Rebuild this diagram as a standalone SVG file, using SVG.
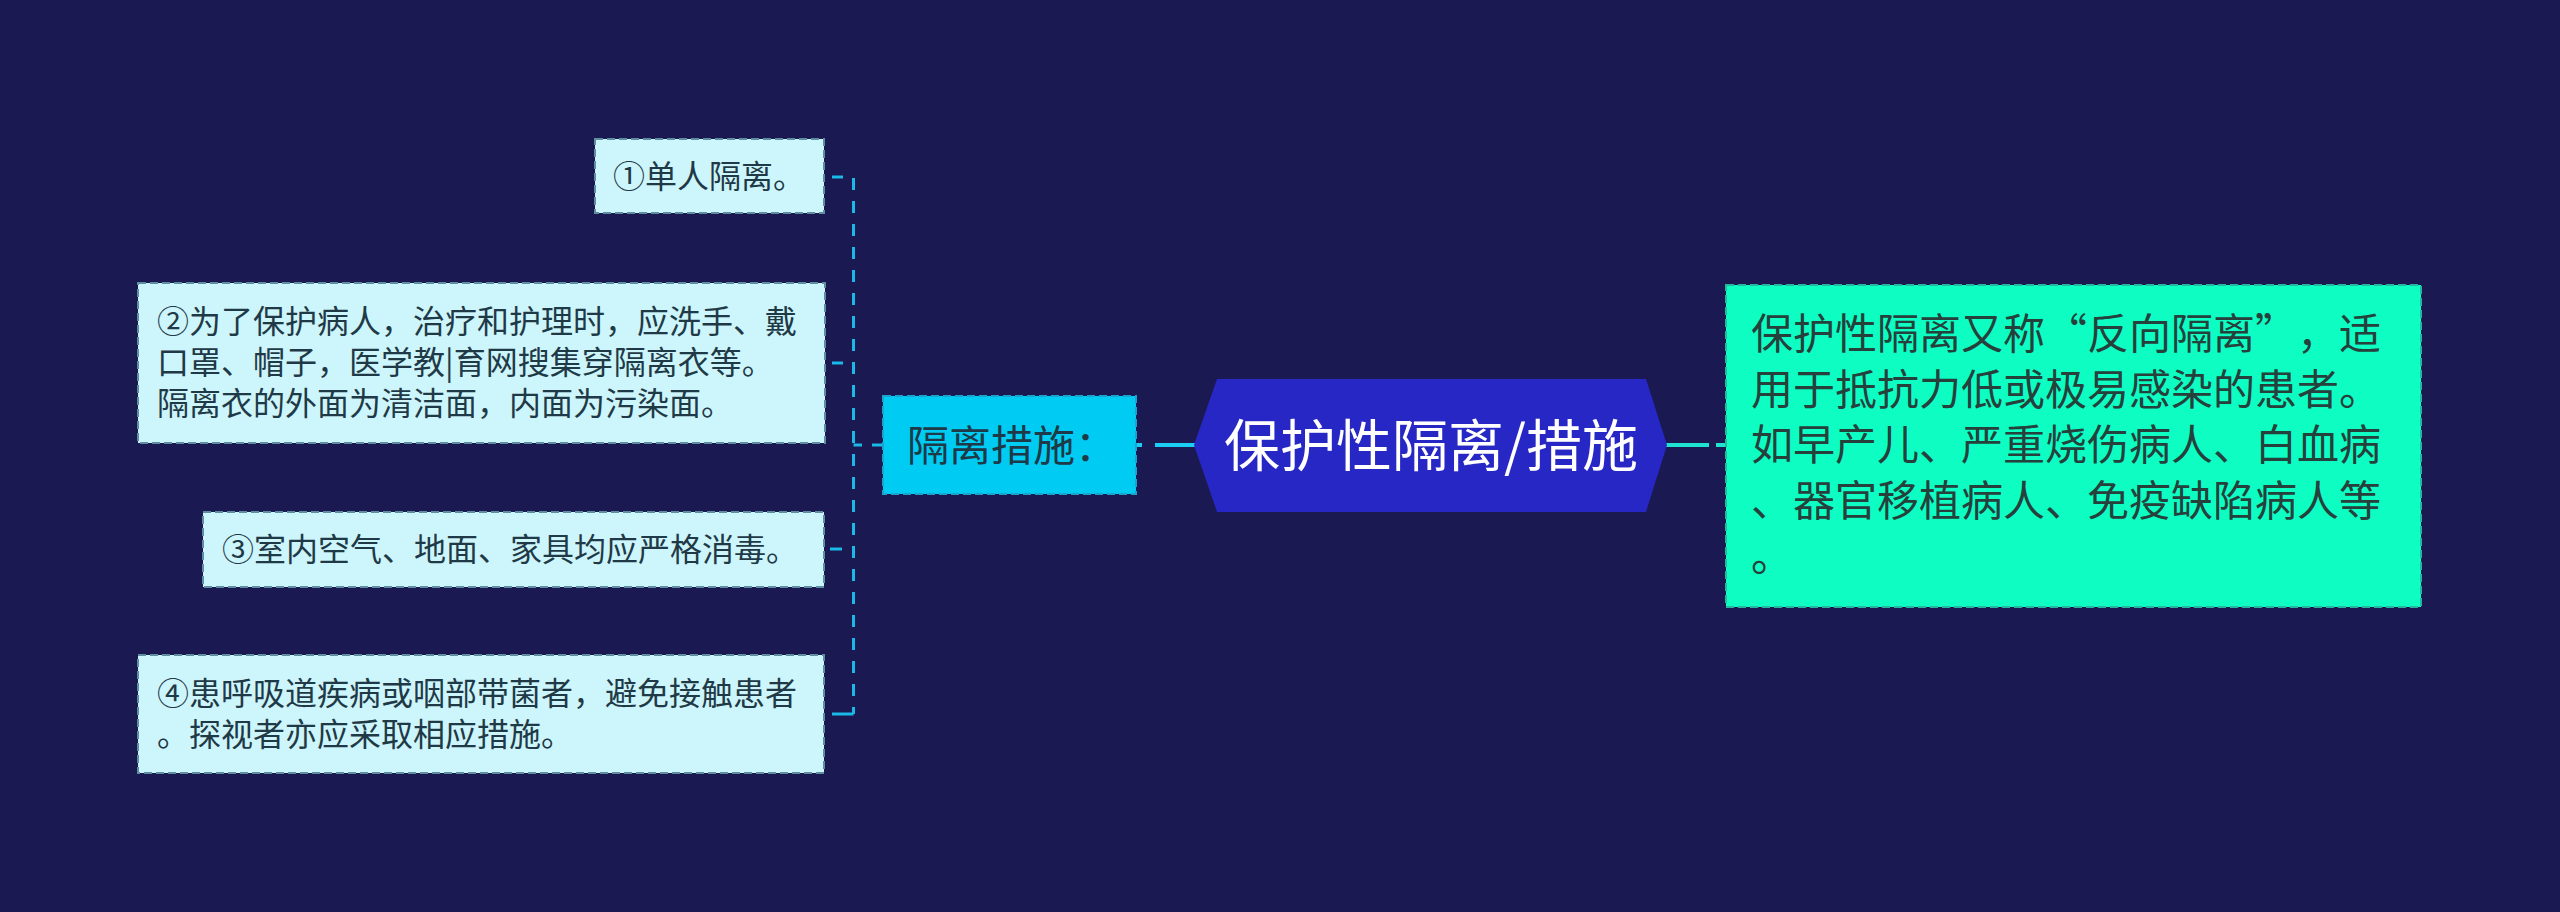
<svg xmlns="http://www.w3.org/2000/svg" width="2560" height="912" viewBox="0 0 2560 912">
<style>
text{font-family:"Noto Sans CJK SC","Noto Sans",sans-serif}
.leaf rect{fill:#cdf5fc;stroke:#5f8ea0;stroke-width:2;stroke-dasharray:8 4}
.leaf text{font-size:32px;fill:#1f3a46}
.mid rect{fill:#00ccf3;stroke:#1aa3cc;stroke-width:2;stroke-dasharray:8 4}
.mid text{font-size:42px;fill:#1e3a48}
.right rect{fill:#0dfdc3;stroke:#26b89c;stroke-width:2;stroke-dasharray:8 4}
.right text{font-size:42px;fill:#26403c}
.root polygon{fill:#2727c5}
.root text{font-size:56px;fill:#ffffff}
.br{stroke:#19b9e8;stroke-width:3;fill:none}
.lk{stroke:#1ccdf3;stroke-width:4;fill:none}
.rk{stroke:#1ee3cf;stroke-width:4;fill:none}
</style>
<rect x="0" y="0" width="2560" height="912" fill="#1a1951"/>
<g id="connectors">
<line class="br" x1="853.5" y1="178" x2="853.5" y2="714" stroke-dasharray="12 11"/>
<line class="br" x1="832" y1="177" x2="843" y2="177"/>
<line class="br" x1="832" y1="363" x2="843" y2="363"/>
<line class="br" x1="830" y1="549" x2="842" y2="549"/>
<line class="br" x1="832" y1="714" x2="853.5" y2="714"/>
<line class="br" x1="853.5" y1="445" x2="862" y2="445"/>
<line class="br" x1="872" y1="445" x2="883" y2="445"/>
<line class="lk" x1="1136" y1="445" x2="1142" y2="445"/>
<line class="lk" x1="1155" y1="445" x2="1196" y2="445"/>
<line class="rk" x1="1665" y1="445" x2="1709" y2="445"/>
<line class="rk" x1="1716" y1="445" x2="1726" y2="445"/>
</g>
<g id="root" class="root">
<polygon points="1194,445 1217,379 1646,379 1667,445 1646,512 1217,512"/>
<text x="1431" y="466" text-anchor="middle">保护性隔离/措施</text>
</g>
<g id="mid" class="mid">
<rect x="883" y="396" width="253" height="98"/>
<text x="907" y="461">隔离措施：</text>
</g>
<g id="right" class="right">
<rect x="1726" y="285" width="695" height="322"/>
<text x="1751" y="349">保护性隔离又称<tspan x="2045">“</tspan><tspan x="2087">反向隔离</tspan><tspan x="2255">”</tspan><tspan x="2297">，适</tspan></text>
<text x="1751" y="405">用于抵抗力低或极易感染的患者。</text>
<text x="1751" y="460">如早产儿、严重烧伤病人、白血病</text>
<text x="1751" y="516">、器官移植病人、免疫缺陷病人等</text>
<text x="1751" y="571">。</text>
</g>
<g id="leaf1" class="leaf">
<rect x="595" y="139" width="229" height="74"/>
<text x="613" y="188">①单人隔离。</text>
</g>
<g id="leaf2" class="leaf">
<rect x="138" y="283" width="687" height="160"/>
<text x="157" y="333">②为了保护病人，治疗和护理时，应洗手、戴</text>
<text x="157" y="374">口罩、帽子，医学教|育网搜集穿隔离衣等。</text>
<text x="157" y="415">隔离衣的外面为清洁面，内面为污染面。</text>
</g>
<g id="leaf3" class="leaf">
<rect x="203" y="512" width="621" height="75"/>
<text x="222" y="561">③室内空气、地面、家具均应严格消毒。</text>
</g>
<g id="leaf4" class="leaf">
<rect x="138" y="655" width="686" height="118"/>
<text x="157" y="705">④患呼吸道疾病或咽部带菌者，避免接触患者</text>
<text x="157" y="746">。探视者亦应采取相应措施。</text>
</g>
</svg>
